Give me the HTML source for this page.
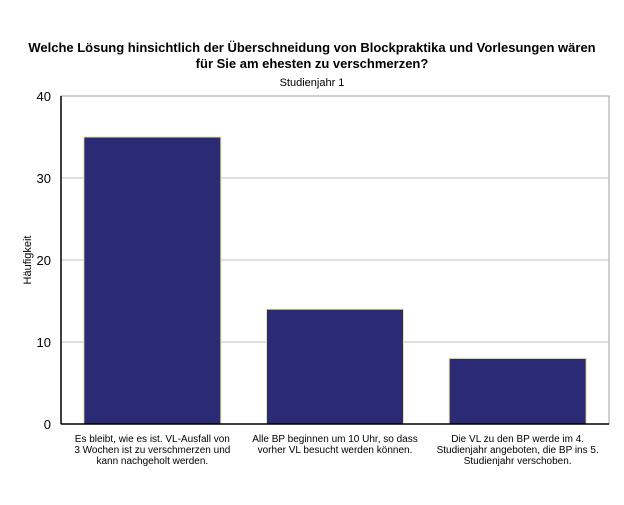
<!DOCTYPE html>
<html><head><meta charset="utf-8"><style>
body{margin:0;background:#fff;width:624px;height:500px;overflow:hidden;font-family:"Liberation Sans",Arial,sans-serif}
svg text{font-family:"Liberation Sans",Arial,sans-serif}
</style></head><body>
<svg id="chart" width="624" height="500">
<text x="312" y="52" text-anchor="middle" font-size="13" font-weight="bold">Welche Lösung hinsichtlich der Überschneidung von Blockpraktika und Vorlesungen wären</text>
<text x="312" y="68" text-anchor="middle" font-size="13" font-weight="bold">für Sie am ehesten zu verschmerzen?</text>
<text x="312" y="86" text-anchor="middle" font-size="11">Studienjahr 1</text>
<text transform="translate(31,260) rotate(-90)" text-anchor="middle" font-size="11">Häufigkeit</text>
<g id="plot"></g>
</svg>
<script>
const categories=[["Es bleibt, wie es ist. VL-Ausfall von","3 Wochen ist zu verschmerzen und","kann nachgeholt werden."],["Alle BP beginnen um 10 Uhr, so dass","vorher VL besucht werden können."],["Die VL zu den BP werde im 4.","Studienjahr angeboten, die BP ins 5.","Studienjahr verschoben."]];
const values=[35,14,8];
const yTicks=[0,10,20,30,40];
const L=61,R=609,T=96,B=424,ymax=40;
const y=v=>B-(v/ymax)*(B-T);
const step=(R-L)/categories.length;
const x=i=>L+step*i;
const bw=137;
const g=document.getElementById('plot');
const NS='http://www.w3.org/2000/svg';
function mk(t,a){const e=document.createElementNS(NS,t);for(const k in a)e.setAttribute(k,a[k]);g.appendChild(e);return e;}
const bg=mk('rect',{x:L,y:T,width:R-L,height:B-T,fill:'#fff',stroke:'#a0a0a0'});


yTicks.forEach(v=>{
 if(v>0&&v<ymax){const gl=mk('line',{x1:L,x2:R,y1:y(v),y2:y(v),stroke:'#bdbdbd'});
 
 }
 const t=mk('text',{x:L-10,y:y(v)+5,'text-anchor':'end','font-size':'13'});t.textContent=v;
 
 
});
values.forEach((v,i)=>{
 const cx=x(i)+step/2;
 const r=mk('rect',{x:cx-bw/2,y:y(v),width:bw,height:B-y(v),fill:'#2b2a74',stroke:'#e8e59a','stroke-width':'1'});
 
 
 categories[i].forEach((ln,j)=>{
  const t=mk('text',{x:cx,y:B+18+j*11,'text-anchor':'middle','font-size':'10'});t.textContent=ln;
  
  
 });
});
const ya=mk('line',{x1:L,x2:L,y1:T,y2:B,stroke:'#000','stroke-width':'1.5'});


const xa=mk('line',{x1:L,x2:R,y1:B,y2:B,stroke:'#000','stroke-width':'1.5'});


</script>
</body></html>
